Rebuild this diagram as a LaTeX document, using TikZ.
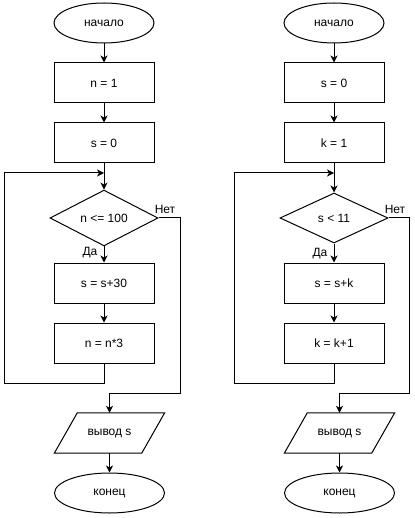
\documentclass[tikz,border=0pt]{standalone}
\usepackage{fontspec}
\setmainfont{Liberation Sans}
\usetikzlibrary{shapes.geometric,arrows.meta}
\begin{document}
\begin{tikzpicture}[x=1pt,y=-1pt,
 every node/.style={font=\fontsize{12}{14}\selectfont, inner sep=0pt},
 term/.style={ellipse, draw, line width=1pt, minimum width=100pt, minimum height=40pt},
 termb/.style={term, minimum width=110pt},
 proc/.style={rectangle, draw, line width=1pt, minimum width=100pt, minimum height=40pt},
 dec/.style={diamond, draw, line width=1pt, minimum width=108pt, minimum height=50pt},
 io/.style={rectangle, minimum width=110pt, minimum height=40pt},
 flow/.style={line width=1pt, -{Stealth[length=7pt,width=7pt,inset=2pt]}},
 plain/.style={line width=1pt}]
\useasboundingbox (0,0) rectangle (414,518);
% left column
\node[term] (s1) at (104,23) {начало};
\node[proc] (a1) at (104,83) {n = 1};
\node[proc] (b1) at (104,143) {s = 0};
\coordinate (j1) at (104,173);
\node[dec] (d1) at (104,218) {n <= 100};
\node[proc] (c1) at (104,283) {s = s+30};
\node[proc] (e1) at (104,343) {n = n*3};
\node[io] (o1) at (109.5,433) {вывод s};
\node[termb] (f1) at (109.5,493) {конец};
\coordinate (n1) at (180,393);
\coordinate (l1) at (4,173);
\draw[plain] ([xshift=23pt]o1.north west) -- (o1.north east) -- ([xshift=-23pt]o1.south east) -- (o1.south west) -- cycle;
\draw[flow] (s1) -- (a1);
\draw[flow] (a1) -- (b1);
\draw[flow] (b1) -- (d1);
\draw[flow] (d1) -- (c1);
\draw[flow] (c1) -- (e1);
\draw[flow] (e1.south) -- ++(0,20) -| (l1) -- (j1);
\draw[flow] (d1.east) -| (n1) -| (o1.north);
\draw[flow] (o1) -- (f1);
\node at (165,209) {Нет};
\node at (90,253) {Да};
% right column
\node[term] (s2) at (334,23) {начало};
\node[proc] (a2) at (334,83) {s = 0};
\node[proc] (b2) at (334,143) {k = 1};
\coordinate (j2) at (334,173);
\node[dec] (d2) at (334,218) {s < 11};
\node[proc] (c2) at (334,283) {s = s+k};
\node[proc] (e2) at (334,343) {k = k+1};
\node[io] (o2) at (339.5,433) {вывод s};
\node[termb] (f2) at (339.5,493) {конец};
\coordinate (n2) at (409.5,393);
\coordinate (l2) at (234.5,173);
\draw[plain] ([xshift=23pt]o2.north west) -- (o2.north east) -- ([xshift=-23pt]o2.south east) -- (o2.south west) -- cycle;
\draw[flow] (s2) -- (a2);
\draw[flow] (a2) -- (b2);
\draw[flow] (b2) -- (d2);
\draw[flow] (d2) -- (c2);
\draw[flow] (c2) -- (e2);
\draw[flow] (e2.south) -- ++(0,20) -| (l2) -- (j2);
\draw[flow] (d2.east) -| (n2) -| (o2.north);
\draw[flow] (o2) -- (f2);
\node at (395,209) {Нет};
\node at (320,254) {Да};
\end{tikzpicture}
\end{document}
